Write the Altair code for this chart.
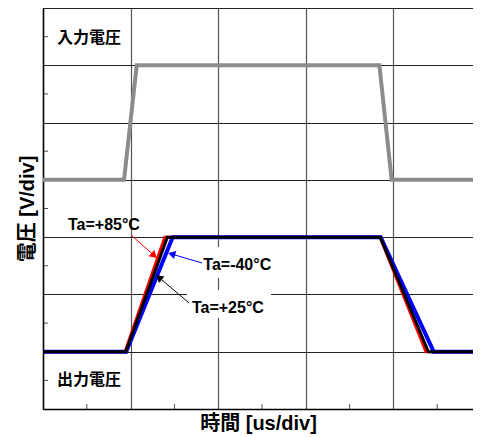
import math
import altair as alt
import pandas as pd

# ---- data (divisions) ----
in_x = [0, 0.925, 1.07, 3.84, 3.98, 5]
in_y = [4, 4, 6, 6, 4, 4]

red_x = [0, 0.936, 1.39, 3.847, 4.372, 5]
red_y = [1, 1, 3, 3, 1, 1]
blk_x = [0, 0.945, 1.42, 3.85, 4.40, 5]
blk_y = [1, 1, 3, 3, 1, 1]
blu_x = [0, 0.95, 1.48, 3.855, 4.46, 5]
blu_y = [1, 1, 3, 3, 1, 1]

minor_x = [0.5, 1.5, 2.5, 3.5, 4.5]
minor_y = [0.5, 1.5, 2.5, 3.5, 4.5, 5.5, 6.5]

lab_text = ["Ta=+85°C", "Ta=-40°C", "Ta=+25°C"]
lab_x = [0.285, 1.83, 1.70]
lab_y = [3.213, 2.515, 1.764]
lab_color = ["red", "blue", "black"]
arr_x0 = [1.005, 1.815, 1.667]
arr_y0 = [3.038, 2.549, 1.851]
arr_x1 = [1.301, 1.427, 1.290]
arr_y1 = [2.636, 2.723, 2.340]

box_x = [1.769, 1.644]
box_x2 = [2.66, 2.603]
box_y = [2.828, 2.078]
box_y2 = [2.287, 1.589]

sig_text = ["入力電圧", "出力電圧"]
sig_x = [0.525, 0.525]
sig_y = [6.476, 0.51]

PX_PER_DIV_X = 87.6
W, H = 430, 401
XD, YD = [0, W / PX_PER_DIV_X], [0, 7]
sx, sy = PX_PER_DIV_X, H / 7

xs = alt.Scale(domain=XD, nice=False, zero=False)
ys = alt.Scale(domain=YD, nice=False, zero=False)

xaxis = alt.Axis(values=[0, 1, 2, 3, 4], grid=True, labels=False, ticks=False,
                 domain=True, domainColor="black", domainWidth=1.5,
                 gridColor="#555", gridWidth=1.2,
                 title="時間 [us/div]", titleFont="Liberation Sans, Noto Sans CJK JP",
                 titleFontSize=20, titleFontWeight="bold", titlePadding=4, titleColor="black")
yaxis = alt.Axis(values=[0, 1, 2, 3, 4, 5, 6, 7], grid=True, labels=False, ticks=False,
                 domain=True, domainColor="black", domainWidth=1.5,
                 gridColor="#222", gridWidth=1.2,
                 title="電圧 [V/div]", titleFont="Liberation Sans, Noto Sans CJK JP",
                 titleFontSize=20, titleFontWeight="bold", titlePadding=6, titleColor="black")


def line_df(x, y):
    return pd.DataFrame({"x": x, "y": y, "o": list(range(len(x)))})


base = alt.Chart(line_df(in_x, in_y)).mark_line(color="#8c8c8c", strokeWidth=4, clip=True).encode(
    x=alt.X("x:Q", scale=xs, axis=xaxis), y=alt.Y("y:Q", scale=ys, axis=yaxis), order="o:Q")

boxes = alt.Chart(pd.DataFrame({"x": box_x, "x2": box_x2, "y": box_y, "y2": box_y2})).mark_rect(
    color="white").encode(x=alt.X("x:Q", scale=xs), x2="x2", y=alt.Y("y:Q", scale=ys), y2="y2")


def trace(x, y, color, w):
    return alt.Chart(line_df(x, y)).mark_line(color=color, strokeWidth=w, clip=True).encode(
        x=alt.X("x:Q", scale=xs), y=alt.Y("y:Q", scale=ys), order="o:Q")


tx = alt.Chart(pd.DataFrame({"x": minor_x, "y": [0] * len(minor_x)})).mark_tick(
    orient="vertical", size=10, thickness=1, color="black", clip=True).encode(
    x=alt.X("x:Q", scale=xs), y=alt.Y("y:Q", scale=ys))
ty = alt.Chart(pd.DataFrame({"x": [0] * len(minor_y), "y": minor_y})).mark_tick(
    orient="horizontal", size=10, thickness=1, color="black", clip=True).encode(
    x=alt.X("x:Q", scale=xs), y=alt.Y("y:Q", scale=ys))

# arrows
rows = []
heads = []
for x0, y0, x1, y1, c in zip(arr_x0, arr_y0, arr_x1, arr_y1, lab_color):
    dxp, dyp = (x1 - x0) * sx, -(y1 - y0) * sy
    L = math.hypot(dxp, dyp)
    ux, uy = dxp / L, dyp / L
    ang = (math.degrees(math.atan2(dxp, -dyp)) + 360) % 360
    back = 5.0
    hx = x1 - ux * back / sx
    hy = y1 + uy * back / sy
    rows.append({"x": x0, "y": y0, "x2": hx, "y2": hy, "c": c})
    heads.append({"x": hx, "y": hy, "a": ang, "c": c})

arr = alt.Chart(pd.DataFrame(rows)).mark_rule(strokeWidth=1).encode(
    x=alt.X("x:Q", scale=xs), y=alt.Y("y:Q", scale=ys), x2="x2", y2="y2",
    color=alt.Color("c:N", scale=None))
hd = alt.Chart(pd.DataFrame(heads)).mark_point(shape="triangle", filled=True, size=70, opacity=1).encode(
    x=alt.X("x:Q", scale=xs), y=alt.Y("y:Q", scale=ys), angle=alt.Angle("a:Q", scale=None),
    color=alt.Color("c:N", scale=None))

labs = alt.Chart(pd.DataFrame({"t": lab_text, "x": lab_x, "y": lab_y})).mark_text(
    align="left", baseline="middle", font="Liberation Sans", fontSize=16, fontWeight="bold",
    color="black").encode(x=alt.X("x:Q", scale=xs), y=alt.Y("y:Q", scale=ys), text="t:N")

sigs = alt.Chart(pd.DataFrame({"t": sig_text, "x": sig_x, "y": sig_y})).mark_text(
    align="center", baseline="middle", font="Noto Sans CJK JP", fontSize=16, fontWeight="bold",
    color="black").encode(x=alt.X("x:Q", scale=xs), y=alt.Y("y:Q", scale=ys), text="t:N")

chart = alt.layer(
    base, boxes, tx, ty,
    trace(red_x, red_y, "#ff0000", 3),
    trace(blu_x, blu_y, "#0000ff", 4),
    trace(blk_x, blk_y, "#000000", 3),
    arr, hd, labs, sigs,
).properties(
    width=W, height=H, autosize="none",
    padding={"left": 35, "top": 0, "right": 0, "bottom": 28},
).configure_view(strokeWidth=0).configure(background="white")

chart.save("out.html", embed_options={"renderer": "svg", "actions": False})
